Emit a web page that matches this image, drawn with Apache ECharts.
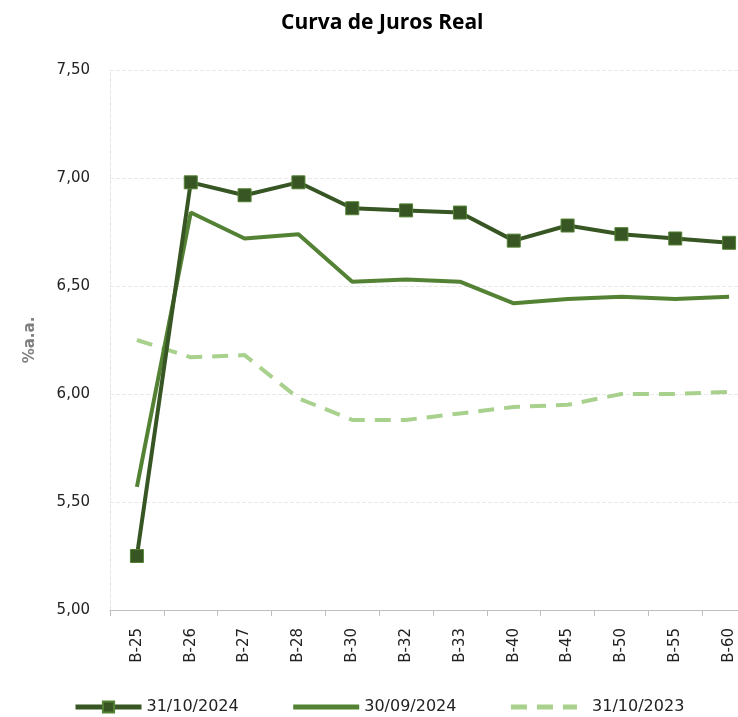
<!DOCTYPE html>
<html lang="pt">
<head>
    <meta charset="UTF-8">
    <title>Curva de Juros Real</title>
    <script src="https://cdn.jsdelivr.net/npm/echarts@6/dist/echarts.min.js"></script>
    <style>
        html, body { margin: 0; padding: 0; background: #fff; overflow: hidden; }
    </style>
</head>
<body>
<!-- a area de plotagem passa da borda direita, como no original -->
<div id="chart" style="width: 758px; height: 717px;"></div>
<script type="text/javascript">
    // vencimentos NTN-B
    var categorias = ['B-25', 'B-26', 'B-27', 'B-28', 'B-30', 'B-32', 'B-33', 'B-40', 'B-45', 'B-50', 'B-55', 'B-60'];
    var out2024 = [5.25, 6.98, 6.92, 6.98, 6.86, 6.85, 6.84, 6.71, 6.78, 6.74, 6.72, 6.70];
    var set2024 = [5.57, 6.84, 6.72, 6.74, 6.52, 6.53, 6.52, 6.42, 6.44, 6.45, 6.44, 6.45];
    var out2023 = [6.25, 6.17, 6.18, 5.98, 5.88, 5.88, 5.91, 5.94, 5.95, 6.00, 6.00, 6.01];
    var nomes = ['31/10/2024', '30/09/2024', '31/10/2023'];

    var chart = echarts.init(document.getElementById('chart'));

    var option = {
        animation: false,
        title: {
            text: 'Curva de Juros Real',
            left: 276,
            top: 8,
            textStyle: {
                fontFamily: 'Liberation Sans Narrow, Open Sans, sans-serif',
                fontSize: 21,
                fontWeight: 'bold',
                color: '#000'
            }
        },
        grid: { left: 110, right: 2, top: 70, bottom: 107 },
        legend: {
            bottom: -3,
            left: 68,
            itemWidth: 66,
            itemHeight: 14,
            itemGap: 52,
            lineStyle: { width: 5 },
            textStyle: { fontFamily: 'DejaVu Sans, sans-serif', fontSize: 16, color: '#222' },
            // o ultimo item tem mais espaco entre o traco e o texto
            formatter: function (name) { return name === nomes[2] ? '  ' + name : name; },
            data: [
                { name: nomes[0] },
                { name: nomes[1], itemStyle: { opacity: 0 } },
                { name: nomes[2], itemStyle: { opacity: 0 } }
            ]
        },
        xAxis: {
            type: 'category',
            data: categorias,
            boundaryGap: true,
            axisLine: { lineStyle: { color: '#bfbfbf', width: 1 } },
            axisTick: { show: true, length: 6, lineStyle: { color: '#bfbfbf' } },
            axisLabel: {
                rotate: 90,
                margin: 18,
                fontFamily: 'DejaVu Sans, sans-serif',
                fontSize: 15,
                color: '#222'
            }
        },
        yAxis: {
            type: 'value',
            min: 5,
            max: 7.5,
            interval: 0.5,
            name: '%a.a.',
            nameLocation: 'middle',
            nameGap: 72,
            nameTextStyle: { fontFamily: 'DejaVu Sans, sans-serif', fontSize: 15, fontWeight: 'bold', color: '#7f7f7f' },
            axisLine: { show: true, lineStyle: { color: '#e6e6e6', type: 'dashed' } },
            axisTick: { show: false },
            splitLine: { lineStyle: { color: '#e8e8e8', type: 'dashed' } },
            axisLabel: {
                margin: 20,
                fontFamily: 'DejaVu Sans, sans-serif',
                fontSize: 15,
                color: '#222',
                formatter: function (v) { return v.toFixed(2).replace('.', ','); }
            }
        },
        series: [
            {
                name: nomes[2],
                type: 'line',
                data: out2023,
                symbol: 'none',
                lineStyle: { color: '#a9d18e', width: 4, type: [16, 10] },
                itemStyle: { color: '#a9d18e' },
                z: 1
            },
            {
                name: nomes[1],
                type: 'line',
                data: set2024,
                symbol: 'none',
                lineStyle: { color: '#548235', width: 4 },
                itemStyle: { color: '#548235' },
                z: 2
            },
            {
                name: nomes[0],
                type: 'line',
                data: out2024,
                symbol: 'rect',
                symbolSize: 13,
                lineStyle: { color: '#375623', width: 4 },
                itemStyle: { color: '#375623', borderColor: '#548235', borderWidth: 1 },
                z: 3
            }
        ]
    };

    chart.setOption(option);
</script>
</body>
</html>
